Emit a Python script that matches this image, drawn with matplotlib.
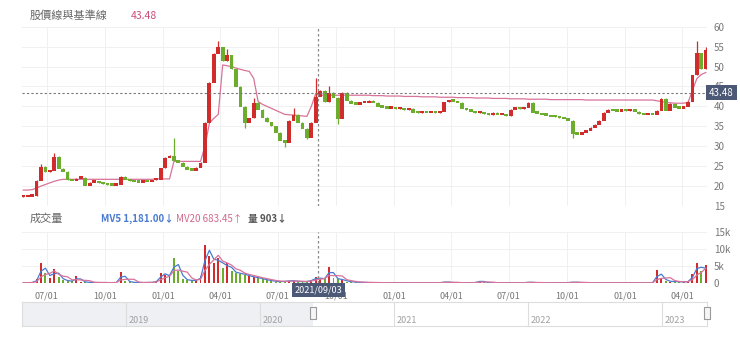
import matplotlib.pyplot as plt
import matplotlib.dates as mdates
import matplotlib.transforms as mtransforms
import numpy as np
import pandas as pd

plt.rcParams['font.family'] = ['Noto Sans CJK TC', 'DejaVu Sans']

# weekly candles, first week starting 2020-05-25
start = "2020-05-25"
close = [
    17.4, 17.5, 17.6, 21.5, 25.0, 23.6, 24.0, 27.5, 24.5, 23.8,
    21.6, 21.4, 22.0, 22.3, 20.2, 21.0, 21.2, 20.8, 20.6, 20.3,
    20.2, 20.4, 22.5, 21.8, 21.3, 21.2, 21.0, 21.3, 21.2, 21.6,
    21.7, 24.6, 27.2, 27.8, 26.5, 26.0, 25.0, 24.2, 24.0, 24.8,
    26.0, 36.0, 46.0, 53.3, 55.0, 51.5, 53.0, 49.5, 45.0, 40.0,
    36.0, 37.2, 41.0, 39.3, 37.3, 36.2, 35.2, 33.5, 31.5, 31.0,
    36.5, 38.0, 36.0, 34.5, 32.3, 36.0, 42.5, 44.0, 41.2, 43.5,
    42.3, 37.0, 43.5, 41.6, 40.8, 40.6, 41.0, 41.0, 41.5, 41.0,
    40.0, 39.8, 39.6, 39.6, 39.4, 39.7, 39.2, 39.5, 38.6, 38.4,
    38.9, 38.5, 38.7, 38.4, 38.8, 41.2, 41.5, 41.3, 41.0, 39.5,
    39.2, 38.8, 38.4, 38.7, 38.2, 37.9, 38.5, 38.0, 38.2, 37.7,
    39.3, 39.5, 39.4, 39.8, 41.0, 38.6, 38.3, 38.0, 37.8, 37.5,
    37.4, 37.2, 37.0, 36.6, 33.3, 33.0, 33.5, 34.0, 34.8, 35.6,
    36.6, 38.5, 39.3, 39.0, 38.8, 39.2, 38.9, 39.1, 38.8, 38.2,
    38.0, 38.1, 38.0, 39.0, 42.0, 39.0, 40.8, 39.8, 39.6, 40.0,
    41.3, 48.0, 53.5, 49.5, 54.4,
]
first_open = 17.3
spike_high = {4: 25.5, 7: 28.3, 34: 32.0, 44: 56.5, 46: 54.5, 52: 42.0,
              61: 39.6, 66: 47.1, 69: 45.0, 152: 56.5, 154: 55.0}
spike_low = {50: 34.5, 59: 29.8, 64: 31.8, 71: 35.5, 124: 32.0}

baseline = [
    19.0, 19.0, 19.1, 19.5, 20.0, 20.4, 20.8, 21.2, 21.5, 21.7,
    21.7, 21.7, 21.7, 21.7, 21.7, 21.7, 21.7, 21.7, 21.7, 21.7,
    21.7, 21.7, 21.7, 21.7, 21.7, 21.7, 21.7, 21.7, 21.7, 21.7,
    21.8, 21.8, 21.8, 21.8, 26.2, 26.2, 26.2, 26.2, 26.2, 26.2,
    26.2, 30.0, 35.8, 37.0, 38.0, 50.4, 50.2, 50.0, 49.6, 49.3,
    49.0, 48.8, 47.0, 41.2, 40.5, 40.0, 39.5, 39.0, 38.5, 38.0,
    37.9, 37.8, 37.7, 37.6, 37.5, 40.0, 43.2, 42.8, 42.8, 42.8,
    42.8, 42.8, 42.8, 42.8, 42.8, 42.8, 42.8, 42.8, 42.8, 42.7,
    42.7, 42.7, 42.6, 42.6, 42.6, 42.6, 42.5, 42.5, 42.5, 42.5,
    42.4, 42.4, 42.4, 42.4, 42.3, 42.3, 42.3, 42.3, 42.2, 42.2,
    42.2, 42.2, 42.1, 42.1, 42.1, 42.1, 42.0, 42.0, 42.0, 42.0,
    41.9, 41.9, 41.9, 41.9, 41.8, 41.8, 41.8, 41.8, 41.8, 41.7,
    41.7, 41.7, 41.7, 41.7, 41.7, 41.7, 41.7, 41.6, 41.6, 41.6,
    41.6, 41.6, 41.6, 41.6, 41.6, 41.6, 41.6, 41.6, 41.6, 41.6,
    41.6, 41.6, 41.6, 41.4, 41.2, 41.0, 40.9, 40.8, 40.8, 40.8,
    41.0, 44.0, 47.0, 48.0, 48.5,
]

volume = [
    200, 150, 300, 1200, 5800, 3000, 1500, 4100, 1800, 900,
    700, 600, 2000, 500, 300, 250, 200, 250, 200, 200,
    150, 300, 3300, 800, 300, 250, 200, 200, 250, 300,
    600, 3000, 2500, 2000, 7400, 3500, 1200, 900, 800, 900,
    2000, 11200, 8000, 6000, 7400, 4500, 5800, 3500, 3000, 2800,
    2500, 2000, 1800, 1500, 1200, 900, 700, 500, 500, 600,
    800, 700, 500, 400, 600, 1000, 1800, 1200, 1500, 4700,
    1500, 1200, 1000, 500, 400, 300, 300, 250, 200, 200,
    150, 200, 150, 150, 200, 150, 150, 200, 150, 150,
    150, 200, 150, 150, 200, 500, 250, 200, 150, 150,
    200, 150, 300, 800, 250, 150, 150, 200, 150, 150,
    200, 150, 150, 200, 400, 200, 150, 150, 150, 150,
    150, 150, 200, 250, 400, 250, 200, 150, 150, 150,
    200, 150, 150, 150, 200, 150, 150, 150, 150, 150,
    150, 150, 200, 3800, 1500, 700, 500, 500, 400, 400,
    600, 2800, 5800, 3500, 5300,
]

cross_date = "2021-09-03"
cross_price = 43.48
price_ticks = [15, 20, 25, 30, 35, 40, 45, 50, 55, 60]
vol_ticks = [0, 5000, 10000, 15000]
vol_tick_labels = ["0", "5k", "10k", "15k"]
years = [2019, 2020, 2021, 2022, 2023]

RED = "#d22b2b"
GREEN = "#6cad2e"
PINK = "#d8739a"
BLUE = "#4a7bd0"
GRID = "#f0f0f0"
TXT = "#777777"

dates = pd.date_range(start, periods=len(close), freq="7D")
c = np.array(close)
o = np.array([first_open] + close[:-1])
hi = np.maximum(o, c)
lo = np.minimum(o, c)
for k, v in spike_high.items():
    hi[k] = v
for k, v in spike_low.items():
    lo[k] = v
colors = np.where(c >= o, RED, GREEN)

W, H = 740, 345


def rect(x0, y0, x1, y1):
    return [x0 / W, 1 - y1 / H, (x1 - x0) / W, (y1 - y0) / H]


fig = plt.figure(figsize=(7.4, 3.45), dpi=100)
ax = fig.add_axes(rect(22, 26.7, 707, 206))
axv = fig.add_axes(rect(22, 231.7, 707, 283.3), sharex=ax)
axn = fig.add_axes(rect(22, 302, 707, 326))

# price panel
ax.plot(dates, baseline, color=PINK, lw=0.9, zorder=2)
ax.vlines(dates, lo, hi, colors=colors, lw=0.9, zorder=3)
ax.bar(dates, np.maximum(np.abs(c - o), 0.6), bottom=np.minimum(o, c) - 0.15,
       width=6, color=colors, zorder=3)
ax.set_ylim(15, 60)
ax.set_yticks(price_ticks)
ax.yaxis.tick_right()
ax.tick_params(axis="y", length=0, pad=5, labelsize=7, labelcolor=TXT)
ax.tick_params(axis="x", length=0, labelbottom=False)
ax.grid(color=GRID, lw=0.7)
for s in ax.spines.values():
    s.set_visible(False)

cd = pd.Timestamp(cross_date)
ax.axvline(cd, color="#888888", ls=(0, (2, 2)), lw=0.9, zorder=4)
ax.axhline(cross_price, color="#777777", ls=(0, (2, 2)), lw=0.8, zorder=4)
ax.text(1.003, cross_price, f"{cross_price:.2f}",
        transform=mtransforms.blended_transform_factory(ax.transAxes, ax.transData),
        ha="left", va="center", fontsize=7, color="white", zorder=6,
        bbox=dict(boxstyle="square,pad=0.3", fc="#4b5876", ec="none"))

# volume panel
axv.bar(dates, volume, width=3, color=colors, zorder=2)
vs = pd.Series(volume, index=dates)
axv.plot(dates, vs.rolling(2, min_periods=1).mean(), color=BLUE, lw=0.9, zorder=3)
axv.plot(dates, vs.rolling(4, min_periods=1).mean(), color=PINK, lw=0.9, zorder=3)
axv.set_ylim(0, 15000)
axv.set_yticks(vol_ticks)
axv.set_yticklabels(vol_tick_labels)
axv.yaxis.tick_right()
axv.tick_params(axis="y", length=0, pad=5, labelsize=7, labelcolor=TXT)
axv.tick_params(axis="x", length=0, pad=6, labelsize=6.5, labelcolor=TXT)
axv.xaxis.set_major_locator(mdates.MonthLocator(bymonth=[1, 4, 7, 10]))
axv.xaxis.set_major_formatter(mdates.DateFormatter("%m/%d"))
axv.grid(color=GRID, lw=0.7)
for s in axv.spines.values():
    s.set_visible(False)
axv.set_xlim(dates[0] - pd.Timedelta(days=2), dates[-1] + pd.Timedelta(days=2))
axv.axvline(cd, color="#888888", ls=(0, (2, 2)), lw=0.9, zorder=4)
axv.text(cd, -0.04, cd.strftime("%Y/%m/%d"),
         transform=mtransforms.blended_transform_factory(axv.transData, axv.transAxes),
         ha="center", va="top", fontsize=6.5, color="white", zorder=6,
         bbox=dict(boxstyle="square,pad=0.3", fc="#4b5876", ec="none"))

# navigator
nav_left = pd.Timestamp("2018-03-24")
nav_right = pd.Timestamp("2023-05-04")
axn.set_xlim(nav_left, nav_right)
axn.set_ylim(0, 1)
axn.axvspan(nav_left, dates[0], color="#eef0f3", lw=0)
for y in years:
    yd = pd.Timestamp(f"{y}-01-01")
    axn.axvline(yd, color="#dddddd", lw=0.8)
    axn.text(yd + pd.Timedelta(days=8), 0.12, str(y), fontsize=6.5, color="#a0a0a0")
handle = [(-1, -2), (1, -2), (1, 2), (-1, 2), (-1, -2)]
axn.plot([dates[0], nav_right], [0.55, 0.55], ls="none", marker=handle, ms=9,
         mfc="#f6f6f6", mec="#9a9a9a", mew=0.8, clip_on=False, zorder=5)
axn.set_xticks([])
axn.set_yticks([])
for s in axn.spines.values():
    s.set_color("#dddddd")
    s.set_linewidth(0.8)

# header texts
fig.text(30 / W, 1 - 16 / H, "股價線與基準線", fontsize=8, color="#666666", va="center")
fig.text(131 / W, 1 - 16 / H, f"{cross_price:.2f}", fontsize=7.5, color="#c8507a", va="center")
fig.text(30 / W, 1 - 219 / H, "成交量", fontsize=8, color="#666666", va="center")
fig.text(101 / W, 1 - 219 / H, "MV5 1,181.00↓", fontsize=7, color=BLUE,
         fontweight="bold", va="center")
fig.text(176 / W, 1 - 219 / H, "MV20 683.45↑", fontsize=7, color="#d0688c", va="center")
fig.text(248 / W, 1 - 219 / H, "量 903↓", fontsize=7, color="#555555",
         fontweight="bold", va="center")

fig.savefig("out.png", dpi=100)
